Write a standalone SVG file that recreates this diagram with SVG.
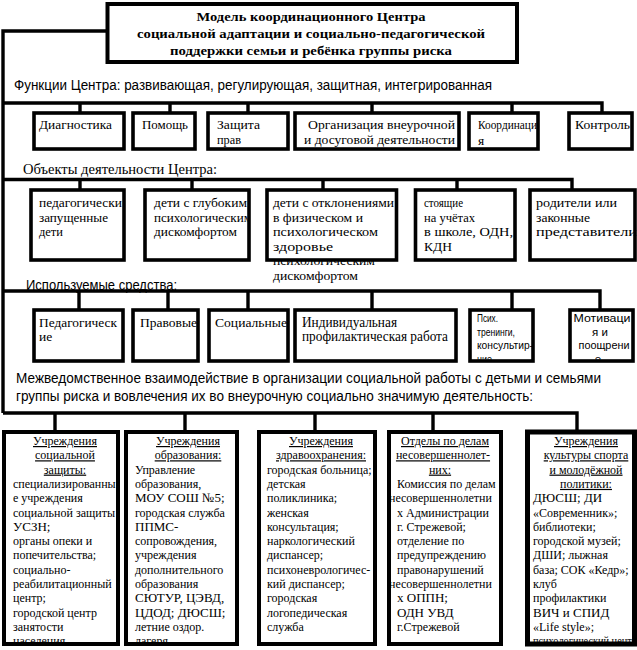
<svg xmlns="http://www.w3.org/2000/svg" width="637" height="650" viewBox="0 0 637 650">
<defs>
<style>
.bx{fill:#fff;stroke:#000;stroke-width:3.6}
.cn{fill:none;stroke:#000;stroke-width:3.4}
text{font-family:"Liberation Serif","Times New Roman",serif;fill:#000}
.s{font-family:"Liberation Serif","Times New Roman",serif;font-size:13.5px}
.t13{font-family:"Liberation Serif","Times New Roman",serif;font-size:12px}
.big{font-size:13px}
.ttl{font-size:13.5px;font-weight:bold;text-anchor:middle}
.hd{font-family:"Liberation Sans",Arial,sans-serif;font-size:14px}
.nw{font-family:"Liberation Sans",Arial,sans-serif;font-size:11.5px}
.u{text-decoration:underline;text-anchor:middle}
.m{text-anchor:middle}
</style>
<clipPath id="cb"><rect x="0" y="0" width="637" height="642"/></clipPath>
<clipPath id="c3"><rect x="0" y="0" width="637" height="359.5"/></clipPath>
<clipPath id="c22"><rect x="145" y="190" width="102.5" height="70"/></clipPath>
</defs>
<rect width="637" height="650" fill="#fff"/>

<g id="connectors" class="cn">
<path d="M107.5 31 H3 V413"/>
<path d="M3 103 H602 V113 M80 103 V113 M170 103 V113 M248 103 V113 M372 103 V113 M512 103 V113"/>
<path d="M3 179.5 H572 V190 M80 179.5 V190 M192 179.5 V190 M323 179.5 V190 M457 179.5 V190"/>
<path d="M3 291 H600 V310 M79 291 V310 M168 291 V310 M248 291 V310 M372 291 V310 M512 291 V310"/>
<path d="M3 413 H577 V432 M55 413 V432 M185 413 V432 M315 413 V432 M433 413 V432"/>
</g>

<g id="title">
<rect class="bx" x="107.5" y="4" width="409.5" height="58" style="stroke-width:4"/>
<text class="ttl" x="311" y="21" textLength="229" lengthAdjust="spacingAndGlyphs">Модель  координационного Центра</text>
<text class="ttl" x="311" y="38" textLength="348" lengthAdjust="spacingAndGlyphs">социальной адаптации и социально-педагогической</text>
<text class="ttl" x="311" y="55" textLength="282" lengthAdjust="spacingAndGlyphs">поддержки семьи и ребёнка группы риска</text>
</g>

<g id="headings">
<text class="hd" x="14" y="90" textLength="478" lengthAdjust="spacingAndGlyphs">Функции Центра:  развивающая, регулирующая, защитная, интегрированная</text>
<text class="s" x="23" y="174" style="font-size:14px" textLength="194" lengthAdjust="spacingAndGlyphs">Объекты деятельности Центра:</text>
<text class="hd" x="26" y="290" textLength="151" lengthAdjust="spacingAndGlyphs">Используемые средства:</text>
<text class="hd" x="16" y="383" textLength="585" lengthAdjust="spacingAndGlyphs">Межведомственное взаимодействие в организации социальной работы с детьми и семьями</text>
<text class="hd" x="16" y="401" textLength="517" lengthAdjust="spacingAndGlyphs">группы риска и вовлечения их во внеурочную  социально значимую деятельность:</text>
</g>

<!-- Row 1: functions -->
<g id="f1"><rect class="bx" x="34" y="113" width="90" height="36"/><text class="s" x="39" y="129" textLength="73" lengthAdjust="spacingAndGlyphs">Диагностика</text></g>
<g id="f2"><rect class="bx" x="133" y="113" width="62" height="36"/><text class="s" x="142" y="129" textLength="46" lengthAdjust="spacingAndGlyphs">Помощь</text></g>
<g id="f3"><rect class="bx" x="208" y="113" width="80" height="36"/><text class="s" x="217" y="129" textLength="43" lengthAdjust="spacingAndGlyphs">Защита</text><text class="s" x="217" y="144" textLength="24" lengthAdjust="spacingAndGlyphs">прав</text></g>
<g id="f4"><rect class="bx" x="295" y="113" width="164" height="36"/><text class="s" x="308" y="129" textLength="147" lengthAdjust="spacingAndGlyphs">Организация внеурочной</text><text class="s" x="304" y="144" textLength="151" lengthAdjust="spacingAndGlyphs">и досуговой деятельности</text></g>
<g id="f5"><rect class="bx" x="469" y="113" width="69" height="36"/><text class="s" x="478" y="129" textLength="59" lengthAdjust="spacingAndGlyphs">Координаци</text><text class="s" x="478" y="145">я</text></g>
<g id="f6"><rect class="bx" x="569" y="113" width="63" height="36"/><text class="s" x="575" y="129" textLength="55" lengthAdjust="spacingAndGlyphs">Контроль</text></g>

<!-- Row 2: objects -->
<g id="o1"><rect class="bx" x="31" y="190" width="93" height="70"/>
<text class="s" x="39" y="207" textLength="83" lengthAdjust="spacingAndGlyphs">педагогически</text><text class="s" x="39" y="221.6" textLength="69" lengthAdjust="spacingAndGlyphs">запущенные</text><text class="s" x="39" y="236.2" textLength="24" lengthAdjust="spacingAndGlyphs">дети</text></g>
<g id="o2"><rect class="bx" x="145" y="190" width="104" height="70"/>
<g clip-path="url(#c22)"><text class="s" x="154" y="207" textLength="93" lengthAdjust="spacingAndGlyphs">дети с глубоким</text><text class="s" x="154" y="221.6" textLength="98" lengthAdjust="spacingAndGlyphs">психологическим</text><text class="s" x="154" y="236.2" textLength="83" lengthAdjust="spacingAndGlyphs">дискомфортом</text></g></g>
<g id="o3"><text class="s" x="273" y="265.4" textLength="102" lengthAdjust="spacingAndGlyphs">психологическим</text><rect class="bx" x="267" y="190" width="129.5" height="70"/>
<text class="s" x="273" y="207" textLength="121" lengthAdjust="spacingAndGlyphs">дети с отклонениями</text><text class="s" x="273" y="221.6" textLength="90" lengthAdjust="spacingAndGlyphs">в физическом и</text><text class="s" x="273" y="236.2" textLength="105" lengthAdjust="spacingAndGlyphs">психологическом</text><text class="s" x="273" y="250.8" textLength="60" lengthAdjust="spacingAndGlyphs">здоровье</text><text class="s" x="273" y="280" textLength="85" lengthAdjust="spacingAndGlyphs">дискомфортом</text></g>
<g id="o4"><rect class="bx" x="415.5" y="190" width="99.5" height="70"/>
<text class="s" x="424" y="207" textLength="39" lengthAdjust="spacingAndGlyphs">стоящие</text><text class="s" x="424" y="221.6" textLength="51" lengthAdjust="spacingAndGlyphs">на учётах</text><text class="s" x="424" y="236.2" textLength="89" lengthAdjust="spacingAndGlyphs">в школе, ОДН,</text><text class="s" x="424" y="250.8" textLength="28" lengthAdjust="spacingAndGlyphs">КДН</text></g>
<g id="o5"><rect class="bx" x="530" y="190" width="105" height="70"/>
<text class="s" x="536" y="207" textLength="81" lengthAdjust="spacingAndGlyphs">родители или</text><text class="s" x="536" y="221.6" textLength="54" lengthAdjust="spacingAndGlyphs">законные</text><text class="s" x="536" y="236.2" textLength="101" lengthAdjust="spacingAndGlyphs">представители</text></g>

<!-- Row 3: means -->
<g id="m1"><rect class="bx" x="34" y="310" width="89" height="51"/><text class="s" x="39" y="327" textLength="78" lengthAdjust="spacingAndGlyphs">Педагогическ</text><text class="s" x="39" y="341">ие</text></g>
<g id="m2"><rect class="bx" x="133" y="310" width="65" height="51"/><text class="s" x="140" y="327" textLength="57" lengthAdjust="spacingAndGlyphs">Правовые</text></g>
<g id="m3"><rect class="bx" x="209" y="310" width="79" height="51"/><text class="s" x="215" y="327" textLength="72" lengthAdjust="spacingAndGlyphs">Социальные</text></g>
<g id="m4"><rect class="bx" x="295" y="310" width="161" height="51"/><text class="s" x="302" y="327" style="font-size:14px" textLength="95" lengthAdjust="spacingAndGlyphs">Индивидуальная</text><text class="s" x="302" y="341" style="font-size:14px" textLength="146" lengthAdjust="spacingAndGlyphs">профилактическая работа</text></g>
<g id="m5"><rect class="bx" x="470" y="310" width="63" height="51"/>
<g clip-path="url(#c3)"><text class="nw" x="477" y="322" textLength="21" lengthAdjust="spacingAndGlyphs">Псих.</text><text class="nw" x="477" y="335.5" textLength="38" lengthAdjust="spacingAndGlyphs">тренинги,</text><text class="nw" x="477" y="349" textLength="56" lengthAdjust="spacingAndGlyphs">консультир-</text><text class="nw" x="477" y="362.5" textLength="15" lengthAdjust="spacingAndGlyphs">ние</text></g></g>
<g id="m6"><rect class="bx" x="570" y="310" width="63" height="51"/>
<g clip-path="url(#c3)"><text class="nw m" x="602" y="322" textLength="57" lengthAdjust="spacingAndGlyphs">Мотиваци</text><text class="nw m" x="600" y="335.5">я и</text><text class="nw m" x="604" y="349" textLength="51" lengthAdjust="spacingAndGlyphs">поощрени</text><text class="nw m" x="598" y="362.5">е</text></g></g>

<!-- Bottom: institutions -->
<g id="i1"><rect class="bx" x="4" y="432" width="114" height="212" style="stroke-width:4"/>
<g class="t13" clip-path="url(#cb)">
<text class="u" x="65" y="445">Учреждения</text>
<text class="u" x="65" y="459.3">социальной</text>
<text class="u" x="65" y="473.6">защиты:</text>
<text x="13" y="487.9">специализированны</text>
<text x="13" y="502.2">е учреждения</text>
<text x="13" y="516.5">социальной защиты</text>
<text class="big" x="13" y="530.8">УСЗН;</text>
<text x="13" y="545.1">органы опеки и</text>
<text x="13" y="559.4">попечительства;</text>
<text x="13" y="573.7">социально-</text>
<text x="13" y="588">реабилитационный</text>
<text x="13" y="602.3">центр;</text>
<text x="13" y="616.6">городской центр</text>
<text x="13" y="630.9">занятости</text>
<text x="13" y="645.2">населения</text>
</g></g>

<g id="i2"><rect class="bx" x="126" y="432" width="111" height="212" style="stroke-width:4"/>
<g class="t13" clip-path="url(#cb)">
<text class="u" x="188" y="445">Учреждения</text>
<text class="u" x="188" y="459.3">образования:</text>
<text x="135" y="473.6">Управление</text>
<text x="135" y="487.9">образования,</text>
<text class="big" x="135" y="502.2">МОУ СОШ №5;</text>
<text x="135" y="516.5">городская служба</text>
<text class="big" x="135" y="530.8">ППМС-</text>
<text x="135" y="545.1">сопровождения,</text>
<text x="135" y="559.4">учреждения</text>
<text x="135" y="573.7">дополнительного</text>
<text x="135" y="588">образования</text>
<text class="big" x="135" y="602.3">СЮТУР, ЦЭВД,</text>
<text class="big" x="135" y="616.6">ЦДОД; ДЮСШ;</text>
<text x="135" y="630.9">летние  оздор.</text>
<text x="135" y="645.2">лагеря</text>
</g></g>

<g id="i3"><rect class="bx" x="259" y="432" width="116" height="212" style="stroke-width:4"/>
<g class="t13" clip-path="url(#cb)">
<text class="u" x="321" y="445">Учреждения</text>
<text class="u" x="321" y="459.3">здравоохранения:</text>
<text x="267" y="473.6">городская больница;</text>
<text x="267" y="487.9">детская</text>
<text x="267" y="502.2">поликлиника;</text>
<text x="267" y="516.5">женская</text>
<text x="267" y="530.8">консультация;</text>
<text x="267" y="545.1">наркологический</text>
<text x="267" y="559.4">диспансер;</text>
<text x="267" y="573.7">психоневрологичес-</text>
<text x="267" y="588">кий диспансер;</text>
<text x="267" y="602.3">городская</text>
<text x="267" y="616.6">логопедическая</text>
<text x="267" y="630.9">служба</text>
</g></g>

<g id="i4"><rect class="bx" x="389" y="432" width="112" height="212" style="stroke-width:4"/>
<g class="t13" clip-path="url(#cb)">
<text class="u" x="445" y="445">Отделы по  делам</text>
<text class="u" x="443" y="459.3">несовершеннолет-</text>
<text class="u" x="440" y="473.6">них:</text>
<text x="397" y="487.9">Комиссия по делам</text>
<text x="389" y="502.2">несовершеннолетни</text>
<text x="397" y="516.5">х Администрации</text>
<text x="397" y="530.8">г. Стрежевой;</text>
<text x="397" y="545.1">отделение по</text>
<text x="397" y="559.4">предупреждению</text>
<text x="397" y="573.7">правонарушений</text>
<text x="389" y="588">несовершеннолетни</text>
<text class="big" x="397" y="602.3">х ОППН;</text>
<text class="big" x="397" y="616.6">ОДН УВД</text>
<text x="397" y="630.9">г.Стрежевой</text>
</g></g>

<g id="i5"><rect class="bx" x="527.5" y="432" width="107" height="212" style="stroke-width:5"/>
<g class="t13" clip-path="url(#cb)">
<text class="u" x="586" y="445">Учреждения</text>
<text class="u" x="586" y="459.3">культуры спорта</text>
<text class="u" x="586" y="473.6">и молодёжной</text>
<text class="u" x="586" y="487.9">политики:</text>
<text class="big" x="533" y="502.2">ДЮСШ; ДИ</text>
<text x="533" y="516.5">«Современник»;</text>
<text x="533" y="530.8">библиотеки;</text>
<text x="533" y="545.1">городской музей;</text>
<text x="533" y="559.4">ДШИ; лыжная</text>
<text x="533" y="573.7">база; СОК «Кедр»;</text>
<text x="533" y="588">клуб</text>
<text x="533" y="602.3">профилактики</text>
<text class="big" x="533" y="616.6">ВИЧ и СПИД</text>
<text x="533" y="630.9">«Life style»;</text>
<text x="533" y="645.2" textLength="104" lengthAdjust="spacingAndGlyphs">психологический центр</text>
</g></g>
</svg>
